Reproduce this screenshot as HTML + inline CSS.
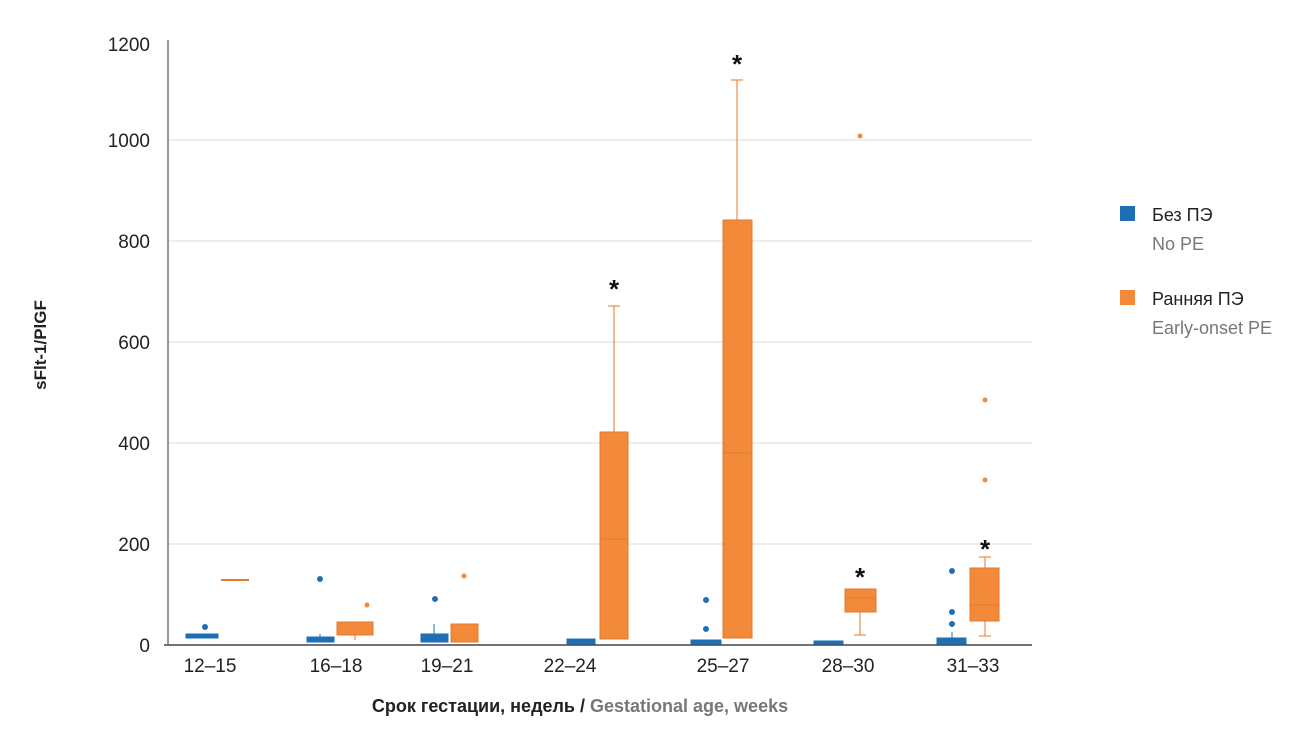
<!DOCTYPE html>
<html><head><meta charset="utf-8"><style>body{margin:0;background:#fff}svg{display:block}</style></head><body>
<svg width="1300" height="732" viewBox="0 0 1300 732" xmlns="http://www.w3.org/2000/svg" font-family="'Liberation Sans Narrow','Liberation Sans','DejaVu Sans',sans-serif">
<g stroke="#e2e2e2" stroke-width="1.2">
<line x1="168" y1="140" x2="1032" y2="140"/><line x1="168" y1="241" x2="1032" y2="241"/><line x1="168" y1="342" x2="1032" y2="342"/><line x1="168" y1="443" x2="1032" y2="443"/><line x1="168" y1="544" x2="1032" y2="544"/>
</g>
<line x1="168" y1="40" x2="168" y2="645" stroke="#777" stroke-width="1.5"/>
<line x1="164" y1="645" x2="1032" y2="645" stroke="#444" stroke-width="1.5"/>
<g font-size="19" fill="#222" text-anchor="end">
<text x="150" y="51">1200</text><text x="150" y="147">1000</text><text x="150" y="248">800</text><text x="150" y="349">600</text><text x="150" y="450">400</text><text x="150" y="551">200</text><text x="150" y="652">0</text>
</g>
<g font-size="19" fill="#222" text-anchor="middle">
<text x="210" y="672">12–15</text><text x="336" y="672">16–18</text><text x="447" y="672">19–21</text><text x="570" y="672">22–24</text><text x="723" y="672">25–27</text><text x="848" y="672">28–30</text><text x="973" y="672">31–33</text>
</g>
<text transform="translate(46,345) rotate(-90)" text-anchor="middle" font-size="17" font-weight="bold" fill="#222">sFlt-1/PlGF</text>
<text x="580" y="712" text-anchor="middle" font-size="18" font-weight="bold" fill="#222">Срок гестации, недель / <tspan fill="#777">Gestational age, weeks</tspan></text>
<g fill="#1f6fb5" stroke="#1f6fb5">
<rect x="186" y="634" width="32" height="4"/><circle cx="205" cy="627" r="2.5"/>
<rect x="307" y="637" width="27" height="5"/><line x1="320" y1="634" x2="320" y2="637"/><circle cx="320" cy="579" r="2.5"/>
<rect x="421" y="634" width="27" height="8"/><line x1="434" y1="624" x2="434" y2="634"/><circle cx="435" cy="599" r="2.5"/>
<rect x="567" y="639" width="28" height="5"/>
<rect x="691" y="640" width="30" height="4"/><circle cx="706" cy="600" r="2.5"/><circle cx="706" cy="629" r="2.5"/>
<rect x="814" y="641" width="29" height="3"/>
<rect x="937" y="638" width="29" height="6"/><line x1="952" y1="632" x2="952" y2="638"/><circle cx="952" cy="571" r="2.5"/><circle cx="952" cy="612" r="2.5"/><circle cx="952" cy="624" r="2.5"/>
</g>
<g fill="#f28a3a" stroke="#e07a2e">
<line x1="221" y1="580" x2="249" y2="580" stroke-width="2"/>
<rect x="337" y="622" width="36" height="13"/><line x1="355" y1="635" x2="355" y2="640"/><circle cx="367" cy="605" r="2.5" stroke="none"/>
<rect x="451" y="624" width="27" height="18"/><circle cx="464" cy="576" r="2.5" stroke="none"/>
<rect x="600" y="432" width="28" height="207"/><line x1="614" y1="306" x2="614" y2="432"/><line x1="608" y1="306" x2="620" y2="306"/>
<rect x="723" y="220" width="29" height="418"/><line x1="737" y1="80" x2="737" y2="220"/><line x1="731" y1="80" x2="743" y2="80"/>
<rect x="845" y="589" width="31" height="23"/><line x1="860" y1="612" x2="860" y2="635"/><line x1="854" y1="635" x2="866" y2="635"/><circle cx="860" cy="136" r="2.5" stroke="none"/>
<rect x="970" y="568" width="29" height="53"/><line x1="985" y1="557" x2="985" y2="568"/><line x1="985" y1="621" x2="985" y2="636"/><line x1="979" y1="557" x2="991" y2="557"/><line x1="979" y1="636" x2="991" y2="636"/><circle cx="985" cy="400" r="2.5" stroke="none"/><circle cx="985" cy="480" r="2.5" stroke="none"/>
</g>
<g stroke="#d0702a" stroke-width="1" opacity=".6"><line x1="600" y1="539" x2="628" y2="539"/><line x1="723" y1="453" x2="752" y2="453"/><line x1="845" y1="598" x2="876" y2="598"/><line x1="970" y1="605" x2="999" y2="605"/></g>
<g font-size="26" font-weight="bold" fill="#111" text-anchor="middle">
<text x="614" y="298">*</text><text x="737" y="73">*</text><text x="860" y="586">*</text><text x="985" y="558">*</text>
</g>
<rect x="1120" y="206" width="15" height="15" fill="#1f6fb5"/>
<text x="1152" y="221" font-size="18" fill="#222">Без ПЭ</text><text x="1152" y="250" font-size="18" fill="#777">No PE</text>
<rect x="1120" y="290" width="15" height="15" fill="#f28a3a"/>
<text x="1152" y="305" font-size="18" fill="#222">Ранняя ПЭ</text><text x="1152" y="334" font-size="18" fill="#777">Early-onset PE</text>
</svg>
</body></html>
